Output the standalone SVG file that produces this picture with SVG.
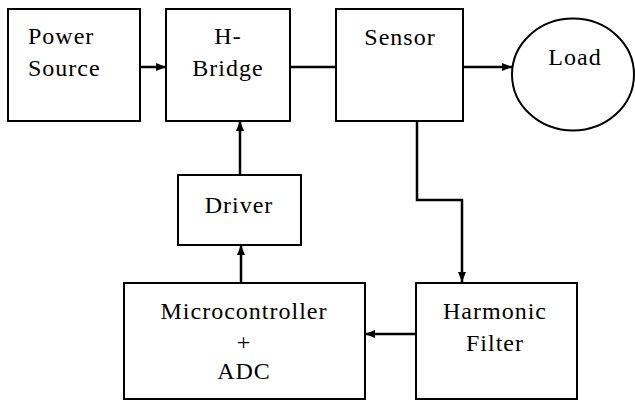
<svg xmlns="http://www.w3.org/2000/svg" width="635" height="401" viewBox="0 0 635 401">
<style>
.box{fill:#fff;stroke:#000;stroke-width:2}
.c{text-anchor:middle}
.ln{fill:none;stroke:#000;stroke-width:2.5}
</style>
<defs>
<marker id="ah" markerWidth="10" markerHeight="8" refX="10" refY="4" orient="auto" markerUnits="userSpaceOnUse">
<path d="M0,0 L10,4 L0,8 Z" fill="#000"/>
</marker>
</defs>
<g font-family="Liberation Serif, Times New Roman, serif" font-size="24" letter-spacing="1" fill="#000">
<g id="power-source"><rect class="box" x="8" y="9" width="132" height="112"/><text x="28" y="44">Power</text><text x="28" y="76">Source</text></g>
<g id="h-bridge"><rect class="box" x="166" y="9" width="124" height="112"/><text class="c" x="228" y="44">H-</text><text class="c" x="228" y="76">Bridge</text></g>
<g id="sensor"><rect class="box" x="336" y="9" width="127" height="112"/><text class="c" x="400" y="45">Sensor</text></g>
<g id="load"><ellipse class="box" cx="573" cy="74.5" rx="61" ry="56"/><text class="c" x="575" y="65">Load</text></g>
<g id="driver"><rect class="box" x="178" y="175" width="123" height="70"/><text class="c" x="239" y="213">Driver</text></g>
<g id="microcontroller"><rect class="box" x="124" y="283" width="241" height="116"/><text class="c" x="244" y="319">Microcontroller</text><text class="c" x="244" y="350">+</text><text class="c" x="244" y="379">ADC</text></g>
<g id="harmonic-filter"><rect class="box" x="416" y="283" width="161" height="116"/><text class="c" x="495" y="319">Harmonic</text><text class="c" x="495" y="351">Filter</text></g>
</g>
<g id="connectors">
<line class="ln" x1="140" y1="67" x2="166" y2="67" marker-end="url(#ah)"/>
<line class="ln" x1="290" y1="67" x2="336" y2="67"/>
<line class="ln" x1="463" y1="67" x2="512" y2="67" marker-end="url(#ah)"/>
<polyline class="ln" points="417,121 417,200 462,200 462,282" marker-end="url(#ah)"/>
<line class="ln" x1="416" y1="334" x2="365" y2="334" marker-end="url(#ah)"/>
<line class="ln" x1="241" y1="283" x2="241" y2="245" marker-end="url(#ah)"/>
<line class="ln" x1="240" y1="175" x2="240" y2="121" marker-end="url(#ah)"/>
</g>
</svg>
